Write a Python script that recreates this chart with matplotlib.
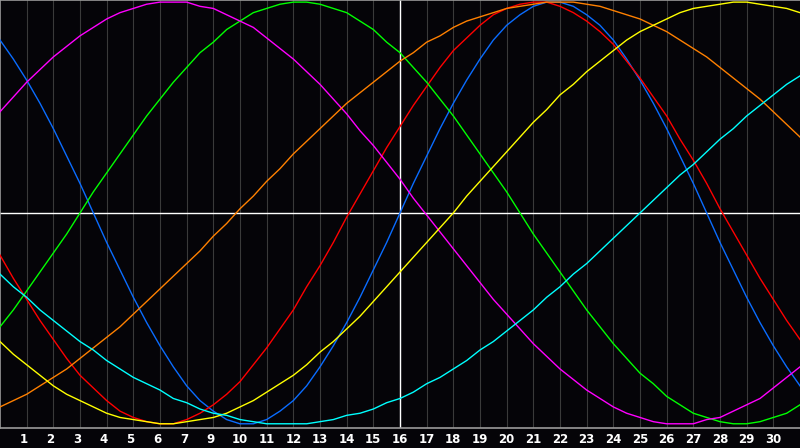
import numpy as np
import matplotlib
matplotlib.use('Agg')
import matplotlib.pyplot as plt

# half-day positions (left edge = 0, right edge = 30)
days = [i / 2 for i in range(61)]

# values, -1 (bottom) .. 1 (top), one every half day
blue = [0.82, 0.73, 0.63, 0.52, 0.40, 0.27, 0.14, 0.00, -0.14, -0.27,
        -0.40, -0.52, -0.63, -0.73, -0.82, -0.89, -0.94, -0.98, -1.00, -1.00,
        -0.98, -0.94, -0.89, -0.82, -0.73, -0.63, -0.52, -0.40, -0.27, -0.14,
        0.00, 0.14, 0.27, 0.40, 0.52, 0.63, 0.73, 0.82, 0.89, 0.94,
        0.98, 1.00, 1.00, 0.98, 0.94, 0.89, 0.82, 0.73, 0.63, 0.52,
        0.40, 0.27, 0.14, 0.00, -0.14, -0.27, -0.40, -0.52, -0.63, -0.73, -0.82]
red = [-0.20, -0.31, -0.41, -0.51, -0.60, -0.69, -0.77, -0.83, -0.89, -0.94,
       -0.97, -0.99, -1.00, -1.00, -0.98, -0.95, -0.91, -0.86, -0.80, -0.72,
       -0.64, -0.55, -0.46, -0.35, -0.25, -0.14, -0.02, 0.09, 0.20, 0.31,
       0.41, 0.51, 0.60, 0.69, 0.77, 0.83, 0.89, 0.94, 0.97, 0.99,
       1.00, 1.00, 0.98, 0.95, 0.91, 0.86, 0.80, 0.72, 0.64, 0.55,
       0.46, 0.35, 0.25, 0.14, 0.02, -0.09, -0.20, -0.31, -0.41, -0.51, -0.60]
green = [-0.54, -0.46, -0.37, -0.28, -0.19, -0.10, 0.00, 0.10, 0.19, 0.28,
         0.37, 0.46, 0.54, 0.62, 0.69, 0.76, 0.81, 0.87, 0.91, 0.95,
         0.97, 0.99, 1.00, 1.00, 0.99, 0.97, 0.95, 0.91, 0.87, 0.81,
         0.76, 0.69, 0.62, 0.54, 0.46, 0.37, 0.28, 0.19, 0.10, 0.00,
         -0.10, -0.19, -0.28, -0.37, -0.46, -0.54, -0.62, -0.69, -0.76, -0.81,
         -0.87, -0.91, -0.95, -0.97, -0.99, -1.00, -1.00, -0.99, -0.97, -0.95, -0.91]
magenta = [0.48, 0.55, 0.62, 0.68, 0.74, 0.79, 0.84, 0.88, 0.92, 0.95,
           0.97, 0.99, 1.00, 1.00, 1.00, 0.98, 0.97, 0.94, 0.91, 0.88,
           0.83, 0.78, 0.73, 0.67, 0.61, 0.54, 0.47, 0.39, 0.32, 0.24,
           0.16, 0.07, -0.01, -0.09, -0.17, -0.25, -0.33, -0.41, -0.48, -0.55,
           -0.62, -0.68, -0.74, -0.79, -0.84, -0.88, -0.92, -0.95, -0.97, -0.99,
           -1.00, -1.00, -1.00, -0.98, -0.97, -0.94, -0.91, -0.88, -0.83, -0.78, -0.73]
orange = [-0.92, -0.89, -0.86, -0.82, -0.78, -0.74, -0.69, -0.64, -0.59, -0.54,
          -0.48, -0.42, -0.36, -0.30, -0.24, -0.18, -0.11, -0.05, 0.02, 0.08,
          0.15, 0.21, 0.28, 0.34, 0.40, 0.46, 0.52, 0.57, 0.62, 0.67,
          0.72, 0.76, 0.81, 0.84, 0.88, 0.91, 0.93, 0.95, 0.97, 0.98,
          0.99, 1.00, 1.00, 1.00, 0.99, 0.98, 0.96, 0.94, 0.92, 0.89,
          0.86, 0.82, 0.78, 0.74, 0.69, 0.64, 0.59, 0.54, 0.48, 0.42, 0.36]
yellow = [-0.61, -0.67, -0.72, -0.77, -0.82, -0.86, -0.89, -0.92, -0.95, -0.97,
          -0.98, -0.99, -1.00, -1.00, -0.99, -0.98, -0.97, -0.95, -0.92, -0.89,
          -0.85, -0.81, -0.77, -0.72, -0.66, -0.61, -0.55, -0.49, -0.42, -0.35,
          -0.28, -0.21, -0.14, -0.07, 0.00, 0.08, 0.15, 0.22, 0.29, 0.36,
          0.43, 0.49, 0.56, 0.61, 0.67, 0.72, 0.77, 0.82, 0.86, 0.89,
          0.92, 0.95, 0.97, 0.98, 0.99, 1.00, 1.00, 0.99, 0.98, 0.97, 0.95]
cyan = [-0.29, -0.35, -0.40, -0.46, -0.51, -0.56, -0.61, -0.65, -0.70, -0.74,
        -0.78, -0.81, -0.84, -0.88, -0.90, -0.93, -0.95, -0.96, -0.98, -0.99,
        -1.00, -1.00, -1.00, -1.00, -0.99, -0.98, -0.96, -0.95, -0.93, -0.90,
        -0.88, -0.85, -0.81, -0.78, -0.74, -0.70, -0.65, -0.61, -0.56, -0.51,
        -0.46, -0.40, -0.35, -0.29, -0.24, -0.18, -0.12, -0.06, 0.00, 0.06,
        0.12, 0.18, 0.23, 0.29, 0.35, 0.40, 0.46, 0.51, 0.56, 0.61, 0.65]

# tick labels under the grid lines (there is no 8 in the original)
day_labels = ['1', '2', '3', '4', '5', '6', '7', '9', '10', '11', '12', '13',
              '14', '15', '16', '17', '18', '19', '20', '21', '22', '23', '24',
              '25', '26', '27', '28', '29', '30']

series = [
    (blue, '#0a6cff'),
    (red, '#ff0000'),
    (green, '#00ff00'),
    (magenta, '#ff00ff'),
    (orange, '#ff8000'),
    (yellow, '#ffff00'),
    (cyan, '#00ffff'),
]

bg = '#050408'
fig = plt.figure(figsize=(8, 4.48), dpi=100, facecolor=bg)
ax = fig.add_axes([0, 20 / 448, 1, 428 / 448])
ax.set_facecolor(bg)

ax.set_xlim(0, 30)
ax.set_ylim(-1.02, 1.01)

for k in range(1, 30):
    ax.axvline(k, color='#3a3a3a', lw=0.8, zorder=1)
ax.axvline(15, color='white', lw=1.0, zorder=2)
ax.axhline(0, color='white', lw=1.0, zorder=2)

for vals, col in series:
    ax.plot(days, vals, color=col, lw=1.0, zorder=3)

ax.set_xticks([])
ax.set_yticks([])
ax.spines['right'].set_visible(False)
for side in ['left', 'top', 'bottom']:
    ax.spines[side].set_color('#9a9a9a')
    ax.spines[side].set_linewidth(1.2)

for k, lab in enumerate(day_labels, start=1):
    dx = -0.1 if len(lab) == 1 else 0.0
    ax.text(k + dx, -0.0115, lab, transform=ax.get_xaxis_transform(),
            ha='center', va='top', color='white', fontsize=8.5,
            fontweight='bold', family='DejaVu Sans')

fig.savefig('out.png', dpi=100, facecolor=bg)
